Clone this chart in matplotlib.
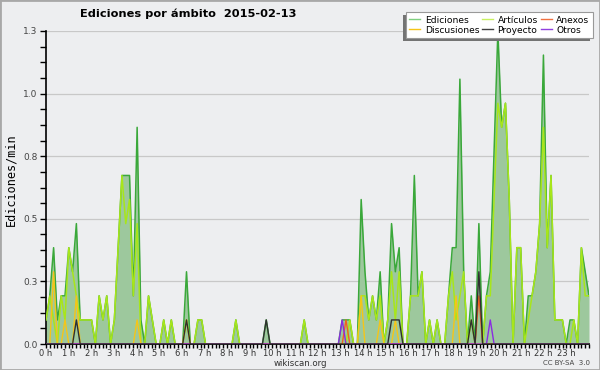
import numpy as np
import matplotlib
matplotlib.use("Agg")
import matplotlib.pyplot as plt
from matplotlib.patches import Rectangle
from matplotlib.lines import Line2D
from matplotlib.transforms import IdentityTransform

# 10-minute buckets over the day (144 points, edits per minute)
ediciones = [
    0.1, 0.2, 0.4, 0.1, 0.2, 0.2,  0.4, 0.3, 0.5, 0.1, 0.1, 0.1,
    0.1, 0.0, 0.2, 0.1, 0.2, 0.0,  0.1, 0.4, 0.7, 0.7, 0.7, 0.2,
    0.9, 0.1, 0.0, 0.2, 0.1, 0.0,  0.0, 0.1, 0.0, 0.1, 0.0, 0.0,
    0.0, 0.3, 0.0, 0.0, 0.1, 0.1,  0.0, 0.0, 0.0, 0.0, 0.0, 0.0,
    0.0, 0.0, 0.1, 0.0, 0.0, 0.0,  0.0, 0.0, 0.0, 0.0, 0.1, 0.0,
    0.0, 0.0, 0.0, 0.0, 0.0, 0.0,  0.0, 0.0, 0.1, 0.0, 0.0, 0.0,
    0.0, 0.0, 0.0, 0.0, 0.0, 0.0,  0.1, 0.1, 0.1, 0.0, 0.0, 0.6,
    0.3, 0.1, 0.2, 0.1, 0.3, 0.0,  0.1, 0.5, 0.3, 0.4, 0.0, 0.0,
    0.2, 0.7, 0.2, 0.3, 0.0, 0.1,  0.0, 0.1, 0.0, 0.0, 0.2, 0.4,
    0.4, 1.1, 0.3, 0.0, 0.2, 0.0,  0.5, 0.0, 0.2, 0.3, 0.8, 1.3,
    0.9, 1.0, 0.6, 0.0, 0.4, 0.4,  0.0, 0.2, 0.2, 0.3, 0.5, 1.2,
    0.4, 0.7, 0.1, 0.1, 0.1, 0.0,  0.1, 0.1, 0.0, 0.4, 0.3, 0.2,
]
articulos = [
    0.1, 0.2, 0.1, 0.0, 0.2, 0.1,  0.4, 0.3, 0.2, 0.1, 0.1, 0.1,
    0.1, 0.0, 0.2, 0.1, 0.2, 0.0,  0.1, 0.4, 0.7, 0.5, 0.6, 0.2,
    0.5, 0.0, 0.0, 0.2, 0.1, 0.0,  0.0, 0.1, 0.0, 0.1, 0.0, 0.0,
    0.0, 0.1, 0.0, 0.0, 0.1, 0.1,  0.0, 0.0, 0.0, 0.0, 0.0, 0.0,
    0.0, 0.0, 0.1, 0.0, 0.0, 0.0,  0.0, 0.0, 0.0, 0.0, 0.0, 0.0,
    0.0, 0.0, 0.0, 0.0, 0.0, 0.0,  0.0, 0.0, 0.1, 0.0, 0.0, 0.0,
    0.0, 0.0, 0.0, 0.0, 0.0, 0.0,  0.0, 0.0, 0.1, 0.0, 0.0, 0.2,
    0.2, 0.1, 0.2, 0.1, 0.2, 0.0,  0.1, 0.3, 0.1, 0.3, 0.0, 0.0,
    0.2, 0.2, 0.2, 0.3, 0.0, 0.1,  0.0, 0.1, 0.0, 0.0, 0.2, 0.3,
    0.1, 0.2, 0.3, 0.0, 0.1, 0.0,  0.0, 0.0, 0.2, 0.2, 0.6, 1.0,
    0.9, 1.0, 0.6, 0.0, 0.4, 0.4,  0.0, 0.1, 0.2, 0.3, 0.5, 0.9,
    0.4, 0.7, 0.1, 0.1, 0.1, 0.0,  0.0, 0.1, 0.0, 0.4, 0.2, 0.2,
]
# sparse series: {bucket: value}
discusiones = {2: 0.3, 5: 0.1, 8: 0.2, 24: 0.1, 37: 0.1, 83: 0.2, 88: 0.1, 92: 0.1, 108: 0.2}
proyecto = {8: 0.1, 37: 0.1, 58: 0.1, 91: 0.1, 92: 0.1, 93: 0.1, 112: 0.1, 114: 0.3}
anexos = {79: 0.1, 114: 0.2}
otros = {78: 0.1, 117: 0.1}

hour_labels = [f"{h} h" for h in range(24)]
ytick_vals = [0, 0.26, 0.52, 0.78, 1.04, 1.3]

BG = "#edeef0"

def dense(d, n=144):
    arr = np.zeros(n)
    for k, v in d.items():
        arr[k] = v
    return arr

n = len(ediciones)
x = np.arange(n) * 24.0 / (n - 1)

fig = plt.figure(figsize=(6, 3.7), dpi=100, facecolor=BG)
ax = fig.add_axes([46 / 600, 26 / 370, 543 / 600, 313 / 370])
ax.set_facecolor("none")

ax.fill_between(x, 0, ediciones, color="#9dc89d", lw=0, zorder=2)
ax.plot(x, ediciones, color="#3aa83a", lw=1.1, zorder=3)
ax.plot(x, articulos, color="#a8e61a", lw=1.1, zorder=4)
ax.plot(x, dense(discusiones), color="#f5c518", lw=1.0, zorder=5)
ax.plot(x, dense(anexos), color="#f06020", lw=1.0, zorder=6)
ax.plot(x, dense(otros), color="#8a2be2", lw=1.0, zorder=6)
ax.plot(x, dense(proyecto), color="#303030", lw=1.0, zorder=7)

ax.set_xlim(0, 24)
ax.set_ylim(0, 1.3)
ax.set_xticks(range(24))
ax.set_xticklabels(hour_labels)
ax.set_xticks(np.arange(0, 24.01, 1 / 6), minor=True)
ax.set_yticks(ytick_vals)
ax.set_yticklabels([f"{v:.1f}" for v in ytick_vals])
ax.set_yticks(np.arange(0, 1.31, 0.065), minor=True)
ax.tick_params(axis="x", which="major", length=3, width=1, labelsize=6, pad=0.5, colors="black", labelcolor="#333333")
ax.tick_params(axis="x", which="minor", length=3, width=1)
ax.tick_params(axis="y", which="both", length=4, width=1, labelsize=6.5, pad=2, labelcolor="#444444")
ax.grid(axis="y", color="#c8c8c8", lw=0.9)
ax.set_axisbelow(True)
for s in ["top", "right"]:
    ax.spines[s].set_visible(False)
ax.spines["left"].set_linewidth(1.2)
ax.spines["bottom"].set_linewidth(1.2)

fig.text(188 / 600, 1 - 14 / 370, "Ediciones por ámbito  2015-02-13", ha="center", va="center",
         fontsize=8.2, fontweight="bold")
fig.text(11 / 600, 1 - 180 / 370, "Ediciones/min", rotation=90, ha="center", va="center",
         family="DejaVu Sans Mono", fontsize=8.5)
fig.text(300 / 600, 1 - 364 / 370, "wikiscan.org", ha="center", va="center", fontsize=6.2, color="#333333")
fig.text(590 / 600, 1 - 363 / 370, "CC BY-SA  3.0", ha="right", va="center", fontsize=5, color="#444444")

handles = [
    Line2D([], [], color="#7fcf7f", lw=1),
    Line2D([], [], color="#f5c518", lw=1),
    Line2D([], [], color="#c8f060", lw=1),
    Line2D([], [], color="#404040", lw=1),
    Line2D([], [], color="#f07040", lw=1),
    Line2D([], [], color="#9040e0", lw=1),
]
labels = ["Ediciones", "Discusiones", "Artículos", "Proyecto", "Anexos", "Otros"]
leg = fig.legend(handles, labels, ncol=3, loc="upper right",
                 bbox_to_anchor=(593 / 600, 1 - 12 / 370), fontsize=6.6,
                 frameon=True, fancybox=False, edgecolor="#999999", facecolor="white",
                 framealpha=1, borderpad=0.4, labelspacing=0.1, handlelength=1.2,
                 handletextpad=0.5, columnspacing=0.3, borderaxespad=0)
leg.get_frame().set_linewidth(0.8)

fig.canvas.draw()
bb = leg.get_window_extent()
fig.patches.append(Rectangle((bb.x0 - 3, bb.y0 - 3), bb.width, bb.height,
                             transform=IdentityTransform(), facecolor="#737373",
                             edgecolor="none", zorder=4.5))
fig.patches.append(Rectangle((0, 0), 1, 1, transform=fig.transFigure, fill=False,
                             edgecolor="#a8a8a8", lw=2, zorder=10))

fig.savefig("out.png", dpi=100, facecolor=BG)
